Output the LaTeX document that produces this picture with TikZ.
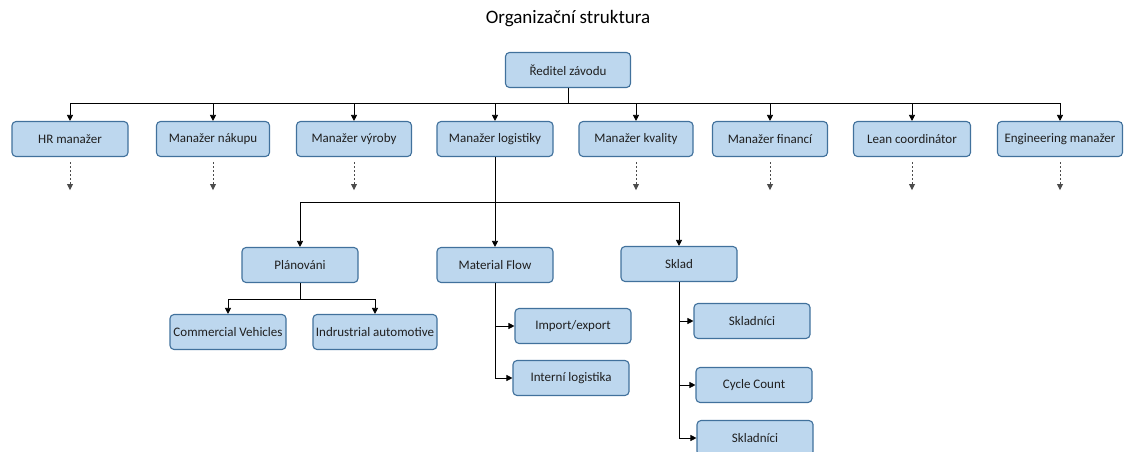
\documentclass[tikz,border=0pt]{standalone}
\usepackage{fontspec}
\setmainfont{Carlito}
\usetikzlibrary{arrows.meta,calc}
\definecolor{boxfill}{HTML}{BDD7EE}
\definecolor{boxline}{HTML}{41719C}
\definecolor{txt}{HTML}{1F1F1F}
\begin{document}
\begin{tikzpicture}[x=1pt,y=-1pt,
  box/.style={draw=boxline, fill=boxfill, rounded corners=4pt, line width=1.1pt,
    minimum width=116pt, minimum height=35pt, inner sep=1pt, text=txt,
    font=\fontsize{13}{15}\selectfont},
  arr/.style={draw=black, line width=0.7pt, -{Triangle[length=6pt,width=6pt]}},
  ln/.style={draw=black, line width=0.7pt},
  dasharr/.style={draw=black!70, line width=0.7pt, dash pattern=on 2pt off 2pt,
    shorten <=5pt, -{Triangle[length=6pt,width=6pt]}}]
\useasboundingbox (0,0) rectangle (1127,452);
\node[font=\fontsize{19}{22}\selectfont, text=black] (title) at (568,19) {Organizační struktura};
% level 0
\node[box, minimum width=125pt] (red) at (568,70) {Ředitel závodu};
% level 1
\node[box] (hr)  at (70,139)  {HR manažer};
\node[box, minimum width=113pt] (nak) at (213,139) {Manažer nákupu};
\node[box, minimum width=115pt] (vyr) at (354,139) {Manažer výroby};
\node[box] (log) at (495,139) {Manažer logistiky};
\node[box, minimum width=114pt] (kva) at (636,139) {Manažer kvality};
\node[box, minimum width=115pt] (fin) at (770,139) {Manažer financí};
\node[box, minimum width=117pt] (lean) at (912,139) {Lean coordinátor};
\node[box, minimum width=125pt] (eng) at (1060,139) {Engineering manažer};
% level 2
\node[box] (plan) at (300,265) {Plánováni};
\node[box] (mf)   at (495,265) {Material Flow};
\node[box] (skl)  at (679,264) {Sklad};
% level 3
\node[box] (cv)  at (228,332) {Commercial Vehicles};
\node[box, minimum width=124pt] (ia) at (375,332) {Indrustrial automotive};
\node[box] (imp) at (573,326) {Import/export};
\node[box] (int) at (571,378) {Interní logistika};
\node[box] (s1)  at (752,321) {Skladníci};
\node[box] (cc)  at (754,385) {Cycle Count};
\node[box] (s2)  at (755,438) {Skladníci};
% bus from director
\coordinate (busR) at (568,103);
\draw[ln] (red.south) -- (busR);
\foreach \n in {hr,nak,vyr,log,kva,fin,lean,eng}{
  \draw[arr] (busR) -| (\n.north);
}
% dashed continuations
\foreach \n in {hr,nak,vyr,kva,fin,lean,eng}{
  \coordinate (\n-d) at ($(\n.south)+(0,33)$);
  \draw[dasharr] (\n.south) -- (\n-d);
}
% logistics subtree
\coordinate (busL) at (495,202);
\draw[ln] (log.south) -- (busL);
\draw[arr] (busL) -| (plan.north);
\draw[arr] (busL) -- (mf.north);
\draw[arr] (busL) -| (skl.north);
% planning subtree
\coordinate (busP) at (300,299);
\draw[ln] (plan.south) -- (busP);
\draw[arr] (busP) -| (cv.north);
\draw[arr] (busP) -| (ia.north);
% material flow subtree
\draw[arr] (mf.south) |- (imp.west);
\draw[arr] (mf.south) |- (int.west);
% warehouse subtree
\draw[arr] (skl.south) |- (s1.west);
\draw[arr] (skl.south) |- (cc.west);
\draw[arr] (skl.south) |- (s2.west);
\end{tikzpicture}
\end{document}
